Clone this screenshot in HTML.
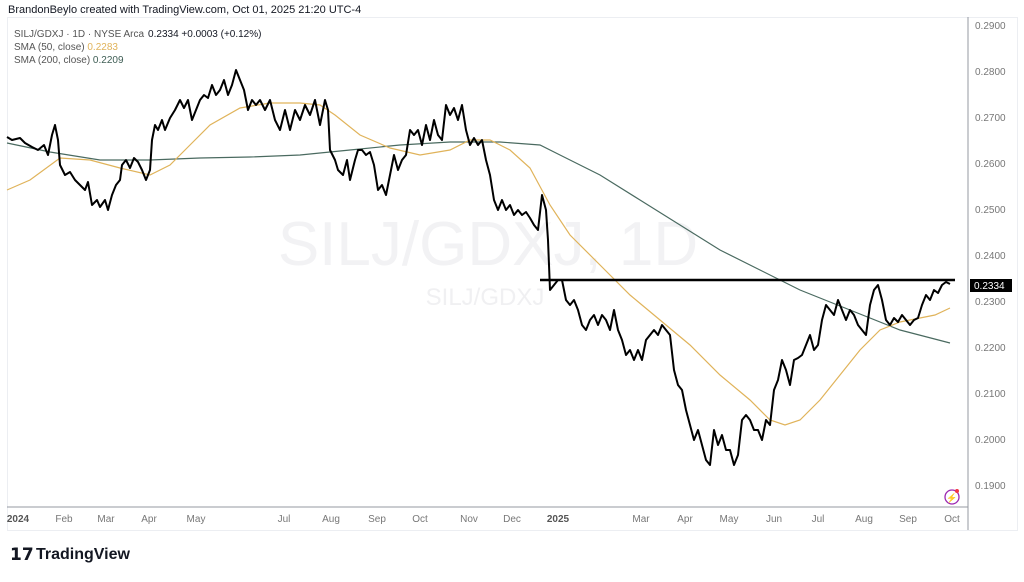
<!DOCTYPE html>
<html><head><meta charset="utf-8"><style>
body{margin:0;background:#fff;width:1024px;height:577px;overflow:hidden;font-family:"Liberation Sans",sans-serif}
</style></head><body>
<svg width="1024" height="577" xmlns="http://www.w3.org/2000/svg" font-family="Liberation Sans, sans-serif">
<rect width="1024" height="577" fill="#fff"/>
<rect x="7.5" y="17.5" width="1010" height="513" fill="none" stroke="#eceef2"/>
<line x1="968" y1="17" x2="968" y2="530" stroke="#9598a1"/>
<line x1="7" y1="507" x2="968" y2="507" stroke="#9598a1"/>
<text x="8" y="13" font-size="11" fill="#131722">BrandonBeylo created with TradingView.com, Oct 01, 2025 21:20 UTC-4</text>
<text x="14" y="37" font-size="10" fill="#555"><tspan>SILJ/GDXJ · 1D · NYSE Arca</tspan><tspan fill="#131722" dx="4">0.2334  +0.0003 (+0.12%)</tspan></text>
<text x="14" y="50" font-size="10" fill="#555">SMA (50, close) <tspan fill="#e0b35a">0.2283</tspan></text>
<text x="14" y="63" font-size="10" fill="#555">SMA (200, close) <tspan fill="#3f5e55">0.2209</tspan></text>
<text x="488" y="265" font-size="62" fill="#f2f2f4" text-anchor="middle">SILJ/GDXJ, 1D</text>
<text x="485" y="305" font-size="24" fill="#f0f0f2" text-anchor="middle">SILJ/GDXJ</text>
<g font-size="10" fill="#777">
<text x="975" y="29">0.2900</text><text x="975" y="75">0.2800</text><text x="975" y="121">0.2700</text><text x="975" y="167">0.2600</text><text x="975" y="213">0.2500</text><text x="975" y="259">0.2400</text><text x="975" y="305">0.2300</text><text x="975" y="351">0.2200</text><text x="975" y="397">0.2100</text><text x="975" y="443">0.2000</text><text x="975" y="489">0.1900</text>
</g>
<rect x="970" y="279" width="42" height="13" fill="#000"/>
<text x="974" y="289" font-size="10" fill="#fff">0.2334</text>
<g font-size="10" fill="#777" text-anchor="middle">
<text x="18" y="522" font-weight="bold" fill="#555">2024</text><text x="64" y="522">Feb</text><text x="106" y="522">Mar</text><text x="149" y="522">Apr</text><text x="196" y="522">May</text><text x="284" y="522">Jul</text><text x="331" y="522">Aug</text><text x="377" y="522">Sep</text><text x="420" y="522">Oct</text><text x="469" y="522">Nov</text><text x="512" y="522">Dec</text><text x="558" y="522" font-weight="bold" fill="#555">2025</text><text x="641" y="522">Mar</text><text x="685" y="522">Apr</text><text x="729" y="522">May</text><text x="774" y="522">Jun</text><text x="818" y="522">Jul</text><text x="864" y="522">Aug</text><text x="908" y="522">Sep</text><text x="952" y="522">Oct</text>
</g>
<polyline fill="none" stroke="#4a6a60" stroke-width="1.2" points="7,143 50,152 100,160 150,160 200,158 250,157 300,155 350,150 400,145 450,142 500,142 540,145 560,155 600,175 640,200 680,225 720,250 760,270 800,290 850,310 900,330 950,343"/>
<polyline fill="none" stroke="#e0b35a" stroke-width="1.2" points="7,190 30,180 60,158 90,160 120,168 150,175 170,165 190,145 210,125 240,108 270,103 300,103 320,105 335,115 360,135 390,148 420,155 450,150 470,140 490,140 510,150 530,168 550,205 570,235 600,265 630,295 660,320 690,345 720,375 750,400 770,420 785,425 800,420 820,400 840,375 860,350 880,330 900,322 920,318 935,315 950,308"/>
<line x1="540" y1="280" x2="955" y2="280" stroke="#000" stroke-width="2.5"/>
<polyline fill="none" stroke="#000" stroke-width="2" stroke-linejoin="round" points="7,137 12,140 20,138 25,143 32,147 38,150 44,145 48,155 52,135 55,125 58,140 60,165 65,175 70,172 75,180 80,185 85,190 88,182 92,205 97,200 100,207 105,200 108,210 112,195 116,185 120,180 122,165 126,160 130,168 134,158 138,162 142,170 146,180 150,170 152,140 155,125 158,130 162,120 165,130 170,118 175,110 180,100 184,108 188,100 192,120 196,110 200,100 204,95 208,98 212,85 216,95 220,90 224,80 228,95 232,85 236,70 240,80 244,90 248,110 252,100 256,105 260,100 265,110 270,100 275,120 280,130 285,110 290,130 295,110 300,120 305,105 310,115 315,100 320,125 325,100 328,110 330,150 335,160 338,170 343,175 347,160 350,180 355,160 358,150 362,150 366,155 370,152 374,165 378,190 382,185 386,195 390,175 394,155 398,170 402,160 406,155 410,130 414,135 418,130 422,145 426,125 430,140 434,120 438,135 442,140 446,105 450,115 454,108 458,120 462,105 466,130 470,145 474,138 478,145 482,140 486,160 490,175 494,200 498,210 502,200 506,210 510,205 514,215 518,210 522,215 526,212 530,218 534,225 538,230 542,195 546,210 548,240 550,290 554,285 558,280 562,280 566,300 570,305 574,300 578,310 582,325 586,330 590,320 594,315 598,325 602,315 606,320 610,330 614,310 618,330 622,340 626,355 630,350 634,360 638,350 642,360 646,340 650,335 654,330 658,335 662,325 666,330 670,335 674,370 678,385 682,390 686,410 690,425 694,440 698,430 702,445 706,460 710,465 714,430 718,445 722,435 726,450 730,450 734,465 738,455 742,420 746,415 750,420 754,430 758,430 762,440 766,420 770,425 774,390 778,380 782,360 786,370 790,385 794,360 798,358 802,355 806,345 810,335 814,350 818,345 822,320 826,305 830,310 834,315 838,300 842,310 846,320 850,310 854,315 858,325 862,330 866,335 870,305 874,290 878,285 882,300 886,320 890,325 894,318 898,322 902,315 906,320 910,325 914,320 918,318 922,305 926,295 930,300 934,290 938,293 942,285 946,282 950,284"/>
<circle cx="952" cy="497" r="7" fill="none" stroke="#9c27b0" stroke-width="1.3"/>
<text x="952" y="501" font-size="9" fill="#9c27b0" text-anchor="middle">⚡</text>
<circle cx="957" cy="491" r="2" fill="#f23645"/>
<text x="10" y="560" font-size="17" font-weight="bold" fill="#131722">𝟭𝟳</text>
<text x="36" y="559" font-size="16" font-weight="bold" fill="#131722">TradingView</text>
</svg>
</body></html>
